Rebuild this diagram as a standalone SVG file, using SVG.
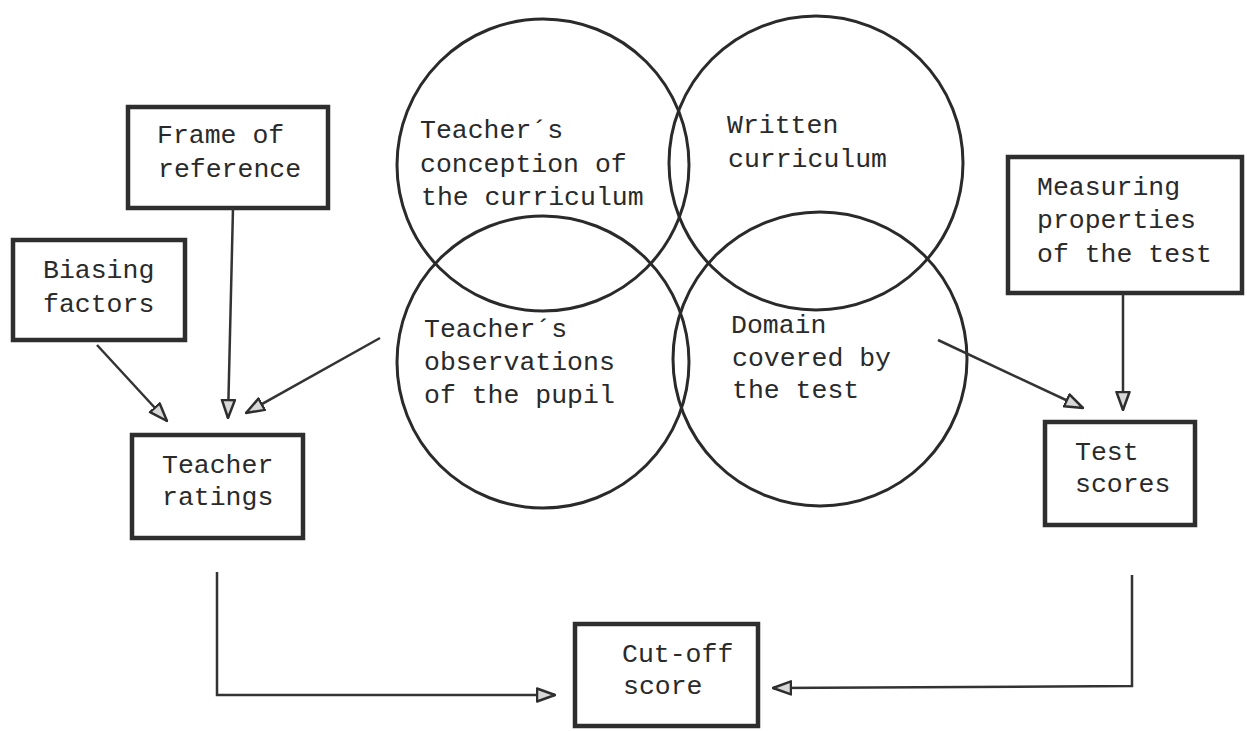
<svg xmlns="http://www.w3.org/2000/svg" width="1247" height="731" viewBox="0 0 1247 731">
<style>
.bg{fill:#ffffff}
.box{fill:none;stroke:#2e2e2e;stroke-width:4.5}
.circ{fill:none;stroke:#2a2a2a;stroke-width:3}
.t{font-family:"Liberation Mono","DejaVu Sans Mono",monospace;font-size:26.5px;fill:#2a2a2a}
.con{fill:none;stroke:#333333;stroke-width:2.5}
</style>
<defs>
<marker id="ah" viewBox="0 0 20 16" refX="19" refY="8" markerWidth="20" markerHeight="16" markerUnits="userSpaceOnUse" orient="auto">
<path d="M1,1.5 L19,8 L1,14.5 Z" fill="#d8d8d8" stroke="#2e2e2e" stroke-width="2.5" stroke-linejoin="round"/>
</marker>
</defs>
<rect class="bg" x="0" y="0" width="1247" height="731"/>

<g id="venn">
<circle class="circ" cx="543" cy="165" r="146"/>
<circle class="circ" cx="816" cy="163" r="147"/>
<circle class="circ" cx="543" cy="362" r="146"/>
<circle class="circ" cx="820" cy="359" r="147"/>
</g>
<g id="c-conception">
<text class="t" x="420" y="138">Teacher´s</text>
<text class="t" x="420" y="172">conception of</text>
<text class="t" x="421" y="205">the curriculum</text>
</g>
<g id="c-written">
<text class="t" x="727" y="133">Written</text>
<text class="t" x="728" y="167">curriculum</text>
</g>
<g id="c-observations">
<text class="t" x="424" y="337">Teacher´s</text>
<text class="t" x="424" y="370">observations</text>
<text class="t" x="424" y="403">of the pupil</text>
</g>
<g id="c-domain">
<text class="t" x="731" y="333">Domain</text>
<text class="t" x="732" y="366">covered by</text>
<text class="t" x="732" y="398">the test</text>
</g>

<g id="n-frame">
<rect class="box" x="128" y="107" width="200" height="101"/>
<text class="t" x="157" y="143">Frame of</text>
<text class="t" x="158" y="177">reference</text>
</g>
<g id="n-biasing">
<rect class="box" x="13" y="240" width="172" height="100"/>
<text class="t" x="43" y="278">Biasing</text>
<text class="t" x="43" y="312">factors</text>
</g>
<g id="n-ratings">
<rect class="box" x="132" y="435" width="171" height="103"/>
<text class="t" x="162" y="473">Teacher</text>
<text class="t" x="162" y="505">ratings</text>
</g>
<g id="n-measuring">
<rect class="box" x="1008" y="157" width="234" height="136"/>
<text class="t" x="1037" y="195">Measuring</text>
<text class="t" x="1037" y="228">properties</text>
<text class="t" x="1037" y="262">of the test</text>
</g>
<g id="n-test">
<rect class="box" x="1045" y="422" width="150" height="103"/>
<text class="t" x="1075" y="460">Test</text>
<text class="t" x="1075" y="492">scores</text>
</g>
<g id="n-cutoff">
<rect class="box" x="575" y="624" width="183" height="102"/>
<text class="t" x="622" y="662">Cut-off</text>
<text class="t" x="623" y="694">score</text>
</g>

<g id="connectors">
<line class="con" x1="97" y1="345" x2="167" y2="421" marker-end="url(#ah)"/>
<line class="con" x1="233" y1="208" x2="228" y2="418" marker-end="url(#ah)"/>
<line class="con" x1="380" y1="338" x2="246" y2="413" marker-end="url(#ah)"/>
<line class="con" x1="938" y1="340" x2="1083" y2="408" marker-end="url(#ah)"/>
<line class="con" x1="1123" y1="293" x2="1123" y2="410" marker-end="url(#ah)"/>
<polyline class="con" points="217,572 217,695 555,695" marker-end="url(#ah)"/>
<polyline class="con" points="1132,575 1132,686 773,688" marker-end="url(#ah)"/>
</g>
</svg>
